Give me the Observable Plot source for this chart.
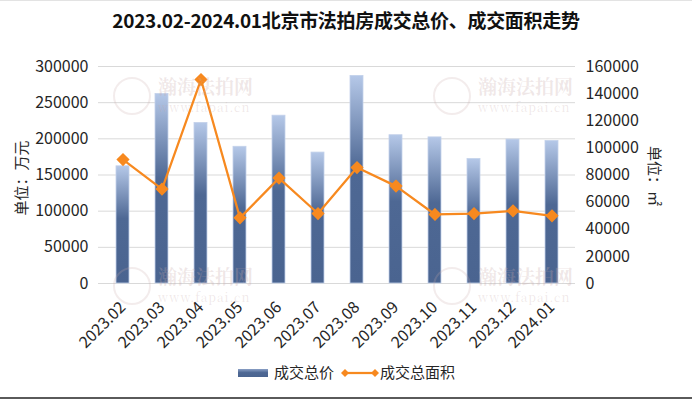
<!DOCTYPE html>
<html>
<head>
<meta charset="utf-8">
<script src="https://cdn.jsdelivr.net/npm/d3@7"></script>
<script src="https://cdn.jsdelivr.net/npm/@observablehq/plot@0.6"></script>
<style>
  html, body { margin: 0; padding: 0; background: #fff; }
  body { width: 692px; height: 399px; position: relative; overflow: hidden;
         font-family: "Microsoft YaHei", "Noto Sans CJK SC", sans-serif; color: #262626; }
  #title { height: 40px; line-height: 40px; text-align: center; font-weight: bold; font-size: 19px; color: #111; letter-spacing: -0.3px; }
  #chart { position: absolute; left: 0; top: 40px; }
  .ytitle { position: absolute; font-size: 15px; white-space: nowrap; color: #262626; }
  #legend { position: absolute; top: 362px; left: 0; width: 692px; height: 22px; }
  .wm { position: absolute; color: rgba(200,170,170,0.28); font-family: "Noto Serif CJK SC", "DejaVu Serif", serif; font-weight: bold; white-space: nowrap; }
  .wm .a { font-size: 19px; line-height: 20px; height: 20px; }
  .wm .b { font-size: 12px; line-height: 12px; height: 12px; font-weight: normal; letter-spacing: 1px; margin-top: 5px; }
  .wmlogo { position: absolute; width: 34px; height: 34px; border-radius: 50%; border: 2px solid rgba(200,170,170,0.22); }
</style>
</head>
<body>
<div id="title">2023.02-2024.01北京市法拍房成交总价、成交面积走势</div>
<div id="chart"></div>
<div class="ytitle" id="ylt">单位：万元</div>
<div class="ytitle" id="yrt">单位：㎡</div>
<div id="legend"></div>
<div style="position:absolute;left:0;top:0;width:692px;height:1px;background:#e3e3e3"></div>
<div style="position:absolute;left:0;top:397px;width:692px;height:2px;background:#5a5a5a"></div>
<script>
const months = ["2023.02","2023.03","2023.04","2023.05","2023.06","2023.07","2023.08","2023.09","2023.10","2023.11","2023.12","2024.01"];
const totalPrice = [162000, 262000, 222000, 189000, 232000, 181000, 287000, 205000, 202000, 172000, 199000, 197000]; // 万元
const totalArea = [91400, 69600, 150400, 48400, 77700, 51600, 85500, 71800, 50900, 51600, 53600, 49900]; // ㎡
const leftTicks = [0, 50000, 100000, 150000, 200000, 250000, 300000];
const rightTicks = [0, 20000, 40000, 60000, 80000, 100000, 120000, 140000, 160000];
const leftMax = 300000, rightMax = 160000;
const seriesNames = ["成交总价", "成交总面积"];

const k = leftMax / rightMax;
const barData = months.map((m, i) => ({month: m, value: totalPrice[i]}));
const lineData = months.map((m, i) => ({month: m, value: totalArea[i] * k}));

const orange = "#f7891f";
const font = "'Microsoft YaHei', 'Noto Sans CJK SC', sans-serif";

const plot = Plot.plot({
  width: 692,
  height: 318,
  marginTop: 26,
  marginBottom: 75,
  marginLeft: 98,
  marginRight: 117,
  style: {fontSize: "16px", fontFamily: font, color: "#262626", background: "transparent", overflow: "visible"},
  x: {type: "band", domain: months, paddingInner: 0.67, paddingOuter: 0.335, axis: null},
  y: {domain: [0, leftMax]},
  marks: [
    Plot.ruleY(leftTicks, {stroke: "#d9d9d9", strokeWidth: 1}),
    Plot.barY(barData, {x: "month", y: "value", fill: "url(#barGrad)", stroke: "#c3d1ea", strokeWidth: 0.8}),
    Plot.line(lineData, {x: "month", y: "value", stroke: orange, strokeWidth: 2.25}),
    Plot.dot(lineData, {x: "month", y: "value", symbol: "diamond2", r: 5, fill: orange, stroke: orange}),
    Plot.axisY(leftTicks, {anchor: "left", tickSize: 0, tickPadding: 10, tickFormat: d => String(d), label: null, fill: "#262626"}),
    Plot.axisY(rightTicks.map(v => v * k), {anchor: "right", tickSize: 0, tickPadding: 10, tickFormat: d => String(Math.round(d / k)), label: null, fill: "#262626"}),
    Plot.text(months, {x: d => d, frameAnchor: "bottom", rotate: -45, textAnchor: "end", lineAnchor: "middle", dx: 0, dy: 21, fill: "#262626", fontSize: 16})
  ]
});

const svg = d3.select(plot);
const defs = svg.insert("defs", ":first-child");
const g = defs.append("linearGradient").attr("id", "barGrad").attr("x1", 0).attr("y1", 0).attr("x2", 0).attr("y2", 1);
g.append("stop").attr("offset", "0%").attr("stop-color", "#b5c8e8");
g.append("stop").attr("offset", "45%").attr("stop-color", "#4e6894");
g.append("stop").attr("offset", "100%").attr("stop-color", "#4a6490");
document.getElementById("chart").appendChild(plot);

// axis titles
const ylt = document.getElementById("ylt");
ylt.style.left = "20px"; ylt.style.top = "178px";
ylt.style.transform = "translate(-50%,-50%) rotate(-90deg)";
const yrt = document.getElementById("yrt");
yrt.style.left = "655px"; yrt.style.top = "176px";
yrt.style.transform = "translate(-50%,-50%) rotate(90deg)";

// legend
const lg = document.getElementById("legend");
lg.innerHTML = `
<svg width="692" height="22" style="position:absolute;left:0;top:0;font-family:${font};font-size:15px;">
  <defs><linearGradient id="lgGrad" x1="0" y1="0" x2="0" y2="1">
    <stop offset="0%" stop-color="#8aa0c6"/><stop offset="45%" stop-color="#4e6894"/><stop offset="100%" stop-color="#4a6490"/>
  </linearGradient></defs>
  <rect x="238" y="7" width="30" height="8" fill="url(#lgGrad)"/>
  <text x="274" y="16" fill="#262626">${seriesNames[0]}</text>
  <line x1="345" y1="11" x2="375" y2="11" stroke="${orange}" stroke-width="2.25"/>
  <path d="M345,7 L349,11 L345,15 L341,11Z" fill="${orange}"/>
  <path d="M375,7 L379,11 L375,15 L371,11Z" fill="${orange}"/>
  <text x="380" y="16" fill="#262626">${seriesNames[1]}</text>
</svg>`;

// watermarks
const wmPos = [[113, 76], [433, 76], [113, 266], [433, 266]];
for (const [x, y] of wmPos) {
  const logo = document.createElement("div");
  logo.className = "wmlogo";
  logo.style.left = x + "px"; logo.style.top = (y + 1) + "px";
  document.body.appendChild(logo);
  const d = document.createElement("div");
  d.className = "wm";
  d.style.left = (x + 45) + "px"; d.style.top = y + "px";
  d.innerHTML = '<div class="a">瀚海法拍网</div><div class="b">www.fapai.cn</div>';
  document.body.appendChild(d);
}
</script>
</body>
</html>
